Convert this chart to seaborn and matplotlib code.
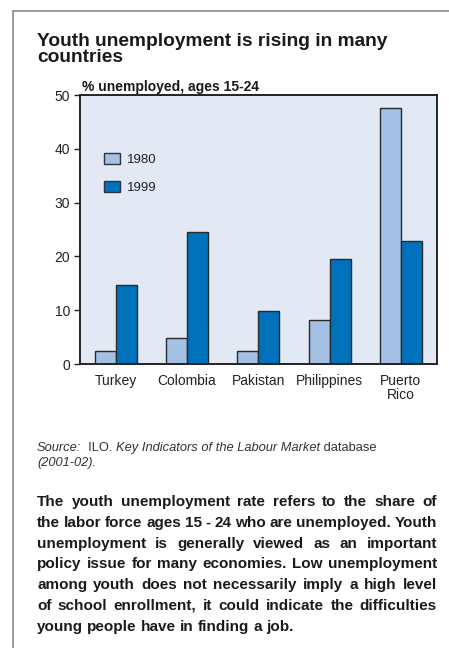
import matplotlib
matplotlib.use("Agg")
import matplotlib.pyplot as plt
import seaborn as sns
import pandas as pd
from matplotlib.lines import Line2D

countries = ["Turkey", "Colombia", "Pakistan", "Philippines", "Puerto\nRico"]
years = ["1980", "1999"]
values_1980 = [2.4, 4.9, 2.4, 8.2, 47.6]
values_1999 = [14.7, 24.6, 9.8, 19.6, 22.9]
y_ticks = [0, 10, 20, 30, 40, 50]

title_text = "Youth unemployment is rising in many\ncountries"
ylabel_text = "% unemployed, ages 15-24"
source_segments = [("Source:", "italic"), ("  ILO. ", "normal"),
                   ("Key Indicators of the Labour Market", "italic"),
                   (" database", "normal")]
source_line2 = "(2001-02)."
body_lines = [
    "The youth unemployment rate refers to the share of",
    "the labor force ages 15 - 24 who are unemployed. Youth",
    "unemployment is generally viewed as an important",
    "policy issue for many economies.  Low unemployment",
    "among youth does not necessarily imply a high level",
    "of school enrollment, it could indicate the difficulties",
    "young people have in finding a job.",
]

df = pd.DataFrame({
    "country": countries * 2,
    "year": [years[0]] * len(countries) + [years[1]] * len(countries),
    "value": values_1980 + values_1999,
})

sns.set_theme(style="white")
plt.rcParams["font.family"] = ["Liberation Sans", "DejaVu Sans"]

W, H = 449, 648
fig = plt.figure(figsize=(W / 100, H / 100), dpi=100)
fig.patch.set_facecolor("white")

ax_l, ax_r, ax_t, ax_b = 80, 436.5, 95, 364
ax = fig.add_axes([ax_l / W, 1 - ax_b / H, (ax_r - ax_l) / W, (ax_b - ax_t) / H])
ax.set_facecolor("#e2e9f5")

palette = {"1980": "#a4c0e4", "1999": "#0072bc"}
sns.barplot(data=df, x="country", y="value", hue="year", palette=palette,
            width=0.59, gap=0, edgecolor="#2a2a2a", linewidth=1.0,
            saturation=1, ax=ax, errorbar=None)

ax.set_xlim(-0.5, 4.5)
ax.set_ylim(0, 50)
ax.set_yticks(y_ticks)
ax.set_yticklabels([str(v) for v in y_ticks], fontsize=10, color="#222222")
ax.tick_params(axis="y", direction="out", length=4, width=1, color="#222222", pad=3, left=True)
ax.tick_params(axis="x", length=0, pad=7, labelsize=10, labelcolor="#222222")
ax.set_xticks(range(len(countries)))
ax.set_xticklabels(countries, linespacing=1.0)
ax.set_xticks([4.5], minor=True)
ax.tick_params(axis="x", which="minor", direction="out", length=5, width=1, color="#222222")
ax.set_xlabel("")
ax.set_ylabel("")
for s in ax.spines.values():
    s.set_visible(True)
    s.set_color("#222222")
    s.set_linewidth(1.4)

leg = ax.legend(loc="upper left", bbox_to_anchor=(0.067, 0.786), frameon=False,
                fontsize=9.5, handlelength=1.25, handleheight=0.95,
                handletextpad=0.5, labelspacing=1.12, borderpad=0, borderaxespad=0)
for h in leg.legend_handles:
    h.set_edgecolor("#333333")
    h.set_linewidth(1.0)
for t in leg.get_texts():
    t.set_color("#222222")

# frame lines of the page
fig.add_artist(Line2D([13 / W, 1], [1 - 11 / H, 1 - 11 / H], transform=fig.transFigure,
                      color="#8a8a8a", lw=1.2))
fig.add_artist(Line2D([13 / W, 13 / W], [1 - 11 / H, 0], transform=fig.transFigure,
                      color="#8a8a8a", lw=1.2))

# title
fig.text(37 / W, 1 - 49.5 / H, title_text, fontsize=13.8, fontweight="bold",
         color="#1a1a1a", va="center", ha="left", linespacing=0.98)
# y-axis label
fig.text(82 / W, 1 - 87 / H, ylabel_text, fontsize=10, fontweight="bold",
         color="#1a1a1a", va="center", ha="left")

renderer = fig.canvas.get_renderer()

def px_width(t):
    return t.get_window_extent(renderer).width

# source line with mixed styles
x = 37.0
for seg, style in source_segments:
    t = fig.text(x / W, 1 - 448 / H, seg, fontsize=9.3, style=style, color="#333333",
                 va="center", ha="left")
    x += px_width(t)
fig.text(37 / W, 1 - 463 / H, source_line2, fontsize=9.3, style="italic", color="#333333",
         va="center", ha="left")

# justified body text
x0, x1 = 37.0, 437.0
y0, dy = 502.0, 20.8
bfs = 11.0
for i, line in enumerate(body_lines):
    y = y0 + i * dy
    words = line.split()
    last = (i == len(body_lines) - 1)
    texts = [fig.text(0, 1 - y / H, w, fontsize=bfs, fontweight="bold", color="#1a1a1a",
                      va="center", ha="left") for w in words]
    widths = [px_width(t) for t in texts]
    if last:
        sp = px_width(fig.text(0, 0, "a a", fontsize=bfs, fontweight="bold", alpha=0)) - \
             2 * px_width(fig.text(0, 0, "a", fontsize=bfs, fontweight="bold", alpha=0))
    else:
        sp = (x1 - x0 - sum(widths)) / (len(words) - 1)
        sp = max(sp, 1.5)
    xx = x0
    for t, w in zip(texts, widths):
        t.set_x(xx / W)
        xx += w + sp

fig.savefig("out.png", dpi=100)
